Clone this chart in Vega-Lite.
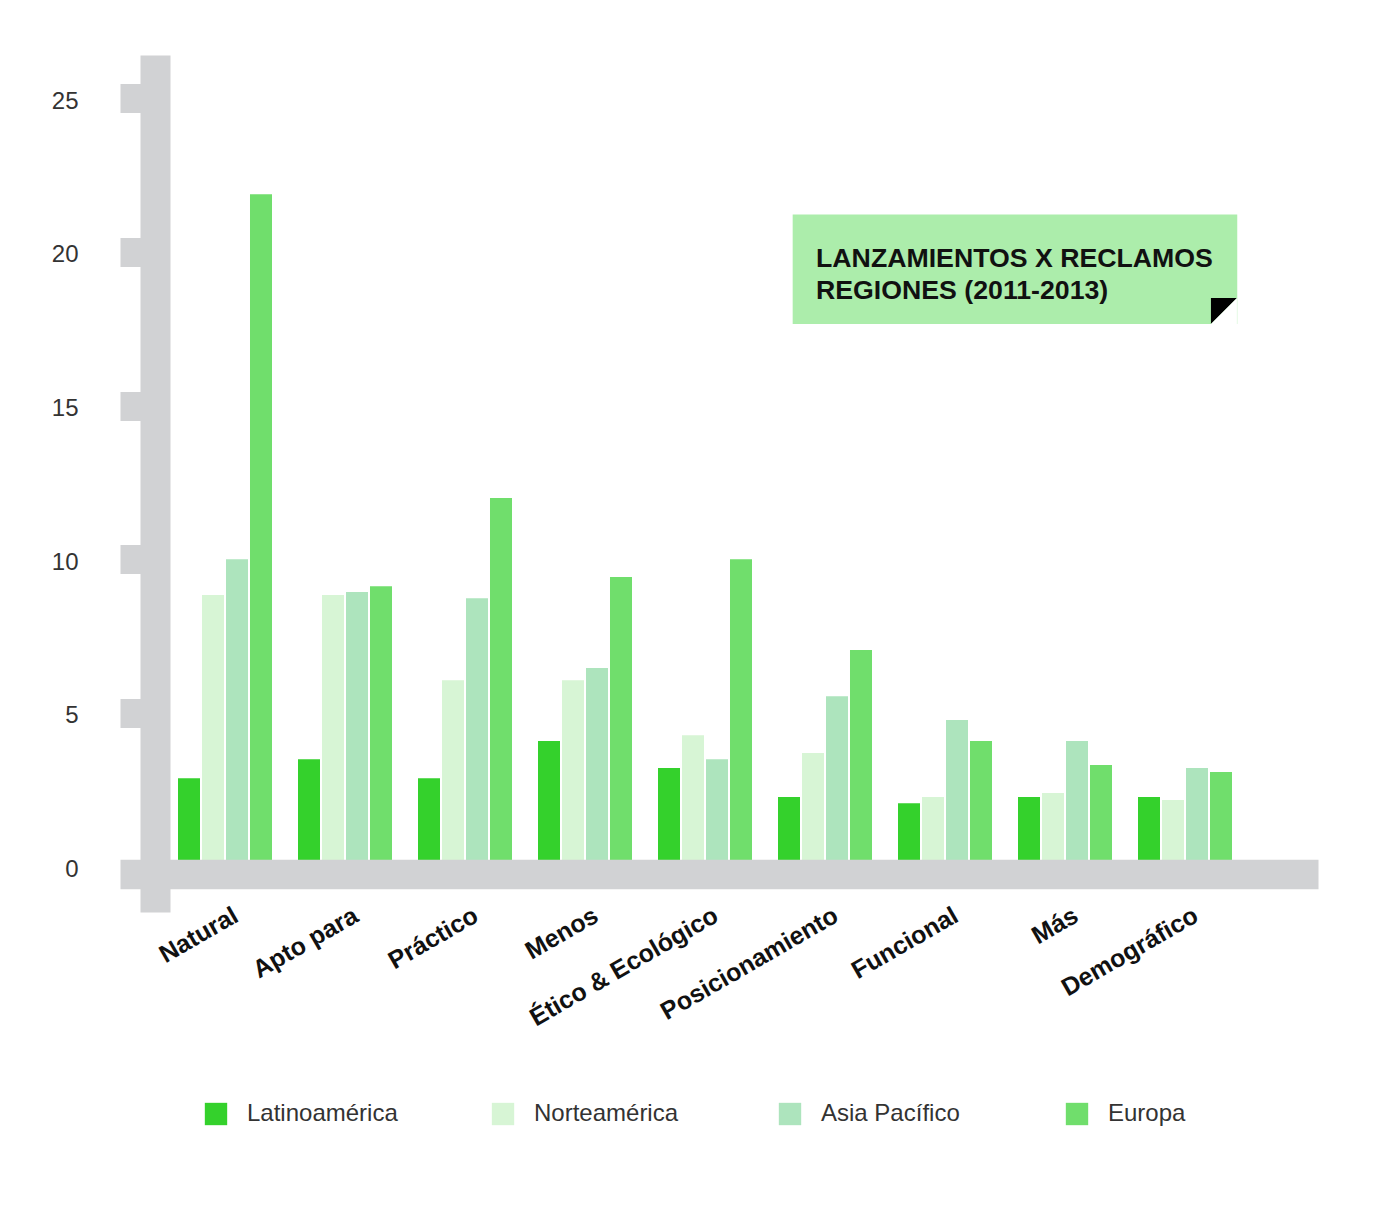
{
  "$schema": "https://vega.github.io/schema/vega-lite/v6.json",
  "autosize": {"type": "none"},
  "width": 1198,
  "height": 857,
  "padding": {"left": 120, "top": 55, "right": 58, "bottom": 300},
  "background": "#ffffff",
  "config": {"view": {"stroke": null}, "font": "Liberation Sans"},
  "layer": [
    {
      "data": {"values": [
        {"reclamo": "Natural", "region": "Latinoamérica", "valor": 2.87},
        {"reclamo": "Natural", "region": "Norteamérica", "valor": 8.83},
        {"reclamo": "Natural", "region": "Asia Pacífico", "valor": 10.0},
        {"reclamo": "Natural", "region": "Europa", "valor": 21.88},
        {"reclamo": "Apto para", "region": "Latinoamérica", "valor": 3.49},
        {"reclamo": "Apto para", "region": "Norteamérica", "valor": 8.83},
        {"reclamo": "Apto para", "region": "Asia Pacífico", "valor": 8.93},
        {"reclamo": "Apto para", "region": "Europa", "valor": 9.12},
        {"reclamo": "Práctico", "region": "Latinoamérica", "valor": 2.87},
        {"reclamo": "Práctico", "region": "Norteamérica", "valor": 6.06},
        {"reclamo": "Práctico", "region": "Asia Pacífico", "valor": 8.73},
        {"reclamo": "Práctico", "region": "Europa", "valor": 11.99},
        {"reclamo": "Menos", "region": "Latinoamérica", "valor": 4.08},
        {"reclamo": "Menos", "region": "Norteamérica", "valor": 6.06},
        {"reclamo": "Menos", "region": "Asia Pacífico", "valor": 6.46},
        {"reclamo": "Menos", "region": "Europa", "valor": 9.42},
        {"reclamo": "Ético & Ecológico", "region": "Latinoamérica", "valor": 3.2},
        {"reclamo": "Ético & Ecológico", "region": "Norteamérica", "valor": 4.27},
        {"reclamo": "Ético & Ecológico", "region": "Asia Pacífico", "valor": 3.49},
        {"reclamo": "Ético & Ecológico", "region": "Europa", "valor": 10.0},
        {"reclamo": "Posicionamiento", "region": "Latinoamérica", "valor": 2.26},
        {"reclamo": "Posicionamiento", "region": "Norteamérica", "valor": 3.69},
        {"reclamo": "Posicionamiento", "region": "Asia Pacífico", "valor": 5.54},
        {"reclamo": "Posicionamiento", "region": "Europa", "valor": 7.04},
        {"reclamo": "Funcional", "region": "Latinoamérica", "valor": 2.05},
        {"reclamo": "Funcional", "region": "Norteamérica", "valor": 2.26},
        {"reclamo": "Funcional", "region": "Asia Pacífico", "valor": 4.76},
        {"reclamo": "Funcional", "region": "Europa", "valor": 4.08},
        {"reclamo": "Más", "region": "Latinoamérica", "valor": 2.26},
        {"reclamo": "Más", "region": "Norteamérica", "valor": 2.39},
        {"reclamo": "Más", "region": "Asia Pacífico", "valor": 4.08},
        {"reclamo": "Más", "region": "Europa", "valor": 3.3},
        {"reclamo": "Demográfico", "region": "Latinoamérica", "valor": 2.26},
        {"reclamo": "Demográfico", "region": "Norteamérica", "valor": 2.16},
        {"reclamo": "Demográfico", "region": "Asia Pacífico", "valor": 3.2},
        {"reclamo": "Demográfico", "region": "Europa", "valor": 3.07}
      ]},
      "mark": {"type": "bar"},
      "encoding": {
        "x": {
          "field": "reclamo", "type": "nominal",
          "sort": ["Natural", "Apto para", "Práctico", "Menos", "Ético & Ecológico", "Posicionamiento", "Funcional", "Más", "Demográfico"],
          "scale": {"paddingInner": 0.21667, "paddingOuter": 0.6, "align": 0.40278},
          "axis": {
            "title": null, "orient": "bottom", "offset": -38, "zindex": 1,
            "domainColor": "#d1d2d4", "domainWidth": 29.5, "domainCap": "butt",
            "ticks": false, "grid": false,
            "labelAngle": -30, "labelAlign": "right", "labelBaseline": "middle",
            "labelFont": "Liberation Sans", "labelFontWeight": "bold", "labelFontSize": 25,
            "labelColor": "#111111", "labelPadding": 39, "labelOffset": 11,
            "labelLimit": 400, "labelOverlap": false
          }
        },
        "xOffset": {
          "field": "region", "type": "nominal",
          "sort": ["Latinoamérica", "Norteamérica", "Asia Pacífico", "Europa"],
          "scale": {"paddingInner": 0.0833, "paddingOuter": 0}
        },
        "y": {
          "field": "valor", "type": "quantitative", "stack": null,
          "scale": {"domain": [-1.486, 26.41], "nice": false, "zero": false},
          "axis": {
            "title": null, "orient": "left", "offset": -35, "grid": false, "zindex": 0,
            "values": [0, 5, 10, 15, 20, 25],
            "domainColor": "#d1d2d4", "domainWidth": 30, "domainCap": "butt",
            "tickColor": "#d1d2d4", "tickSize": 35, "tickWidth": 29, "tickCap": "butt",
            "tickOpacity": {"condition": {"test": "datum.value === 0", "value": 0}, "value": 1},
            "labelFont": "Liberation Sans", "labelFontSize": 24, "labelColor": "#333333",
            "labelAlign": "right", "labelBaseline": "middle",
            "labelPadding": 42, "labelOffset": 3, "labelFlush": false
          }
        },
        "color": {
          "field": "region", "type": "nominal",
          "sort": ["Latinoamérica", "Norteamérica", "Asia Pacífico", "Europa"],
          "scale": {
            "domain": ["Latinoamérica", "Norteamérica", "Asia Pacífico", "Europa"],
            "range": ["#34d12c", "#d7f5d5", "#ade4bd", "#70de6c"]
          },
          "legend": {
            "orient": "none", "legendX": 84, "legendY": 1047,
            "direction": "horizontal", "columns": 4, "gridAlign": "all", "columnPadding": 93,
            "title": null, "symbolType": "square", "symbolSize": 500, "symbolStrokeWidth": 0,
            "labelFont": "Liberation Sans", "labelFontSize": 24, "labelColor": "#333333",
            "labelOffset": 19, "labelLimit": 400, "padding": 0
          }
        }
      }
    },
    {
      "data": {"values": [{"nota": "LANZAMIENTOS X RECLAMOS\nREGIONES (2011-2013)"}]},
      "mark": {"type": "rect", "color": "#acedab"},
      "encoding": {
        "x": {"datum": 56.15, "type": "quantitative", "scale": {"domain": [0, 100], "nice": false, "zero": false}, "axis": null},
        "x2": {"datum": 93.26},
        "y": {"datum": 21.22, "type": "quantitative", "scale": {"domain": [-1.486, 26.41], "nice": false, "zero": false}, "axis": null},
        "y2": {"datum": 17.65}
      }
    },
    {
      "data": {"values": [{"nota": "LANZAMIENTOS X RECLAMOS\nREGIONES (2011-2013)"}]},
      "mark": {"type": "text", "align": "left", "baseline": "alphabetic", "lineBreak": "\n",
               "font": "Liberation Sans", "fontWeight": "bold", "fontSize": 26.7, "lineHeight": 32,
               "color": "#111111"},
      "encoding": {
        "x": {"datum": 58.1, "type": "quantitative", "scale": {"domain": [0, 100], "nice": false, "zero": false}, "axis": null},
        "y": {"datum": 19.5, "type": "quantitative", "scale": {"domain": [-1.486, 26.41], "nice": false, "zero": false}, "axis": null},
        "text": {"field": "nota", "type": "nominal"}
      }
    },
    {
      "data": {"values": [{"nota": "pliegue"}]},
      "mark": {"type": "point", "filled": true, "shape": "M -1 -1 L 1 -1 L -1 1 Z", "size": 676, "color": "#000000", "opacity": 1, "strokeWidth": 0},
      "encoding": {
        "x": {"datum": 92.15, "type": "quantitative", "scale": {"domain": [0, 100], "nice": false, "zero": false}, "axis": null},
        "y": {"datum": 18.08, "type": "quantitative", "scale": {"domain": [-1.486, 26.41], "nice": false, "zero": false}, "axis": null}
      }
    },
    {
      "data": {"values": [{"nota": "pliegue"}]},
      "mark": {"type": "point", "filled": true, "shape": "M 1 -1 L 1 1 L -1 1 Z", "size": 676, "color": "#ffffff", "opacity": 1, "strokeWidth": 0},
      "encoding": {
        "x": {"datum": 92.15, "type": "quantitative", "scale": {"domain": [0, 100], "nice": false, "zero": false}, "axis": null},
        "y": {"datum": 18.08, "type": "quantitative", "scale": {"domain": [-1.486, 26.41], "nice": false, "zero": false}, "axis": null}
      }
    }
  ],
  "resolve": {"scale": {"x": "independent", "y": "independent"}}
}
